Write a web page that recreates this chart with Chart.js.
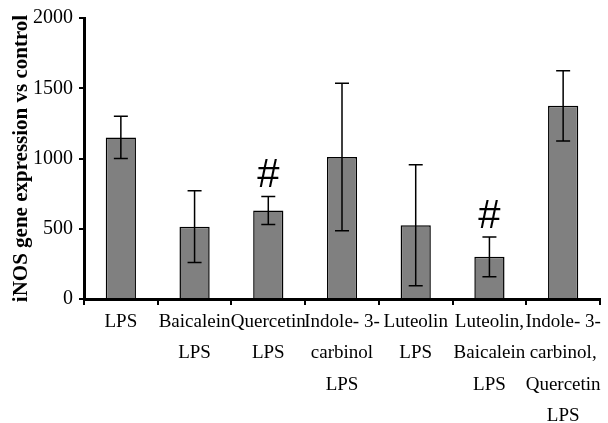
<!DOCTYPE html>
<html>
<head>
<meta charset="utf-8">
<script src="https://cdn.jsdelivr.net/npm/chart.js@4"></script>
<style>
  html, body { margin: 0; padding: 0; background: #fff; }
  #wrap { width: 608px; height: 423px; position: relative; }
</style>
</head>
<body>
<div id="wrap"><canvas id="inosChart"></canvas></div>
<script>
// ── DATA ──
const categories = [
    ['LPS'],
    ['Baicalein', 'LPS'],
    ['Quercetin', 'LPS'],
    ['Indole- 3-', 'carbinol', 'LPS'],
    ['Luteolin', 'LPS'],
    ['Luteolin,', 'Baicalein', 'LPS'],
    ['Indole- 3-', 'carbinol,', 'Quercetin', 'LPS']
];
const expression = [1150, 515, 630, 1010, 525, 300, 1375];
const errors     = [150, 255, 100, 525, 430, 142, 250];
const marks      = ['', '', '#', '', '', '#', ''];
const yTicks     = [0, 500, 1000, 1500, 2000];

const serif = "'Times New Roman', 'Liberation Serif', serif";

// ── ERROR BARS + # MARKS ──
const errorBars = {
    id: 'errorBars',
    afterDatasetsDraw(chart) {
        const { ctx, scales: { y } } = chart;
        const meta = chart.getDatasetMeta(0);
        ctx.save();
        ctx.strokeStyle = '#000';
        ctx.lineWidth = 1.5;
        meta.data.forEach((bar, i) => {
            const top = y.getPixelForValue(expression[i] + errors[i]);
            const bot = y.getPixelForValue(expression[i] - errors[i]);
            const cx = bar.x;
            ctx.beginPath();
            ctx.moveTo(cx, top); ctx.lineTo(cx, bot);
            ctx.moveTo(cx - 7, top); ctx.lineTo(cx + 7, top);
            ctx.moveTo(cx - 7, bot); ctx.lineTo(cx + 7, bot);
            ctx.stroke();
            if (marks[i]) {
                ctx.fillStyle = '#000';
                ctx.font = "40px 'Liberation Sans', Arial, sans-serif";
                ctx.textAlign = 'center';
                ctx.textBaseline = 'alphabetic';
                ctx.fillText(marks[i], cx, top - 9);
            }
        });
        ctx.restore();
    }
};

new Chart(document.getElementById('inosChart'), {
    type: 'bar',
    data: {
        labels: categories,
        datasets: [{
            data: expression,
            backgroundColor: '#808080',
            borderColor: '#000',
            borderWidth: 1.5,
            barPercentage: 0.41,
            categoryPercentage: 1
        }]
    },
    options: {
        responsive: true,
        maintainAspectRatio: false,
        animation: false,
        layout: { padding: { top: 18, right: 8, left: 0, bottom: 0 } },
        plugins: {
            legend: { display: false },
            tooltip: { enabled: false }
        },
        scales: {
            x: {
                grid: {
                    drawOnChartArea: false,
                    color: '#000',
                    lineWidth: 2,
                    tickLength: 6,
                    offset: true
                },
                border: { color: '#000', width: 3 },
                ticks: {
                    color: '#000',
                    maxRotation: 0,
                    minRotation: 0,
                    autoSkip: false,
                    padding: 1,
                    font: { family: serif, size: 19, lineHeight: 1.66 }
                },
                afterFit: s => { s.height = 124; }
            },
            y: {
                min: 0,
                max: 2000,
                afterBuildTicks: s => { s.ticks = yTicks.map(v => ({ value: v })); },
                grid: {
                    drawOnChartArea: false,
                    color: '#000',
                    lineWidth: 2,
                    tickLength: 5
                },
                border: { color: '#000', width: 3 },
                ticks: {
                    color: '#000',
                    padding: 6,
                    callback: v => String(v),
                    font: { family: serif, size: 20 }
                },
                title: {
                    display: true,
                    text: 'iNOS gene expression vs control',
                    color: '#000',
                    padding: { top: 9, bottom: 0 },
                    font: { family: serif, size: 21, weight: 'bold' }
                },
                afterFit: s => { s.width = 84; }
            }
        }
    },
    plugins: [errorBars]
});
</script>
</body>
</html>
